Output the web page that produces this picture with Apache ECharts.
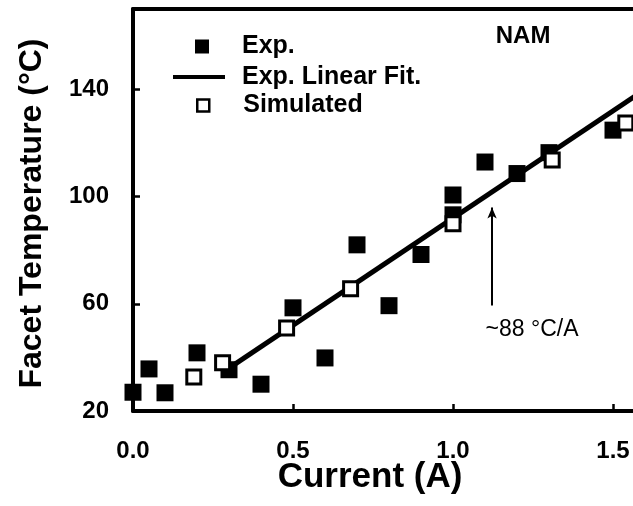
<!DOCTYPE html>
<html>
<head>
<meta charset="utf-8">
<script src="https://cdn.jsdelivr.net/npm/echarts/dist/echarts.min.js"></script>
<style>
  html, body { margin: 0; padding: 0; background: #fff; }
  #chart { width: 633px; height: 506px; }
</style>
</head>
<body>
<div id="chart"></div>
<script>
// measured data (Current in A, facet temperature in degC)
var expX = [0, 0.05, 0.1, 0.2, 0.3, 0.4, 0.5, 0.6, 0.7, 0.8, 0.9, 1.0, 1.0, 1.1, 1.2, 1.3, 1.5];
var expY = [27, 35.7, 26.8, 41.7, 35.4, 30, 58.5, 39.8, 82, 59.3, 78.4, 100.6, 93.2, 112.9, 108.6, 116.4, 124.8];

var simX = [0.19, 0.28, 0.48, 0.68, 1.0, 1.31, 1.54];
var simY = [32.7, 38, 51, 65.6, 89.9, 113.7, 127.5];

// linear fit end points
var fitX = [0.3, 1.6];
var fitY = [36, 140];

var xTicks = [0, 0.5, 1.0, 1.5];
var yTicks = [20, 60, 100, 140];

var font = 'Liberation Sans, Arial, sans-serif';

function pairs(xs, ys) {
  var out = [];
  for (var i = 0; i < xs.length; i++) {
    out.push([xs[i], ys[i]]);
  }
  return out;
}

function legendText(pad) {
  return { fontFamily: font, fontSize: 25, fontWeight: 'bold', color: '#000', lineHeight: 28, padding: pad };
}

var chart = echarts.init(document.getElementById('chart'), null, { renderer: 'canvas' });

var option = {
  animation: false,
  backgroundColor: '#fff',
  textStyle: { fontFamily: font },
  grid: {
    left: 133,
    top: 9,
    width: 512,
    height: 402,
    outerBoundsMode: 'none'
  },
  legend: [{
    left: 195, top: 27, padding: 0,
    orient: 'vertical',
    selectedMode: false,
    itemWidth: 14, itemHeight: 14,
    data: [{ name: 'Exp.', icon: 'rect', itemStyle: { color: '#000', borderWidth: 0, opacity: 1 } }],
    textStyle: legendText([11, 0, 0, 28])
  }, {
    left: 173, top: 63, padding: 0,
    orient: 'vertical',
    selectedMode: false,
    itemWidth: 52, itemHeight: 4,
    data: [{ name: 'Exp. Linear Fit.', icon: 'rect', itemStyle: { color: '#000', borderWidth: 0 } }],
    textStyle: legendText([0, 0, 0, 12])
  }, {
    left: 196, top: 88, padding: 0,
    orient: 'vertical',
    selectedMode: false,
    itemWidth: 12, itemHeight: 12,
    data: [{ name: 'Simulated', icon: 'rect', itemStyle: { color: '#fff', borderColor: '#000', borderWidth: 2.5, opacity: 1 } }],
    textStyle: legendText([7, 0, 0, 29])
  }],
  xAxis: [{
    type: 'value',
    position: 'bottom',
    min: 0,
    max: 1.6,
    interval: 0.5,
    name: 'Current (A)',
    nameLocation: 'middle',
    nameGap: 49,
    nameMoveOverlap: false,
    nameTextStyle: { fontFamily: font, fontSize: 35, fontWeight: 'bold', color: '#000', padding: [0, 38, 0, 0] },
    axisLine: { show: true, onZero: false, lineStyle: { color: '#000', width: 4 } },
    axisTick: { show: true, inside: true, length: 7, lineStyle: { color: '#000', width: 2.5 } },
    axisLabel: {
      margin: 28,
      fontFamily: font, fontSize: 24, fontWeight: 'bold', color: '#000',
      formatter: function (v) { return xTicks.indexOf(v) >= 0 ? v.toFixed(1) : ''; }
    },
    splitLine: { show: false }
  }, {
    type: 'value',
    position: 'top',
    min: 0,
    max: 1.6,
    axisLine: { show: true, onZero: false, lineStyle: { color: '#000', width: 4 } },
    axisTick: { show: false },
    axisLabel: { show: false },
    splitLine: { show: false }
  }],
  yAxis: {
    type: 'value',
    min: 20,
    max: 170,
    interval: 40,
    name: 'Facet Temperature (°C)',
    nameLocation: 'middle',
    nameGap: 85,
    nameMoveOverlap: false,
    nameTextStyle: { fontFamily: font, fontSize: 32, fontWeight: 'bold', color: '#000', padding: [0, 7, 0, 0] },
    axisLine: { show: true, onZero: false, lineStyle: { color: '#000', width: 4 } },
    axisTick: { show: true, inside: true, length: 7, lineStyle: { color: '#000', width: 2.5 } },
    axisLabel: {
      margin: 24,
      fontFamily: font, fontSize: 24, fontWeight: 'bold', color: '#000',
      formatter: function (v) { return yTicks.indexOf(v) >= 0 ? String(v) : ''; }
    },
    splitLine: { show: false }
  },
  series: [{
    name: 'Exp.',
    type: 'scatter',
    symbol: 'rect',
    symbolSize: 17,
    itemStyle: { color: '#000', opacity: 1 },
    data: pairs(expX, expY),
    z: 2
  }, {
    name: 'Exp. Linear Fit.',
    type: 'line',
    showSymbol: false,
    symbol: 'none',
    color: '#000',
    lineStyle: { color: '#000', width: 5 },
    data: pairs(fitX, fitY),
    z: 3,
    markLine: {
      silent: true,
      symbol: ['none', 'arrow'],
      symbolSize: [7, 11],
      label: { show: false },
      lineStyle: { color: '#000', width: 2, type: 'solid' },
      data: [[{ coord: [1.122, 59.4] }, { coord: [1.122, 95.9] }]]
    },
    markPoint: {
      silent: true,
      symbol: 'rect',
      symbolSize: 1,
      itemStyle: { color: 'rgba(0,0,0,0)' },
      data: [{
        coord: [1.247, 50.5],
        label: { show: true, position: 'inside', formatter: '~88 °C/A', fontFamily: font, fontSize: 23, color: '#000' }
      }, {
        coord: [1.219, 159.9],
        label: { show: true, position: 'inside', formatter: 'NAM', fontFamily: font, fontSize: 24, fontWeight: 'bold', color: '#000' }
      }]
    }
  }, {
    name: 'Simulated',
    type: 'scatter',
    symbol: 'rect',
    symbolSize: 14,
    itemStyle: { color: '#fff', borderColor: '#000', borderWidth: 3, opacity: 1 },
    data: pairs(simX, simY),
    z: 4
  }]
};

chart.setOption(option);
</script>
</body>
</html>
